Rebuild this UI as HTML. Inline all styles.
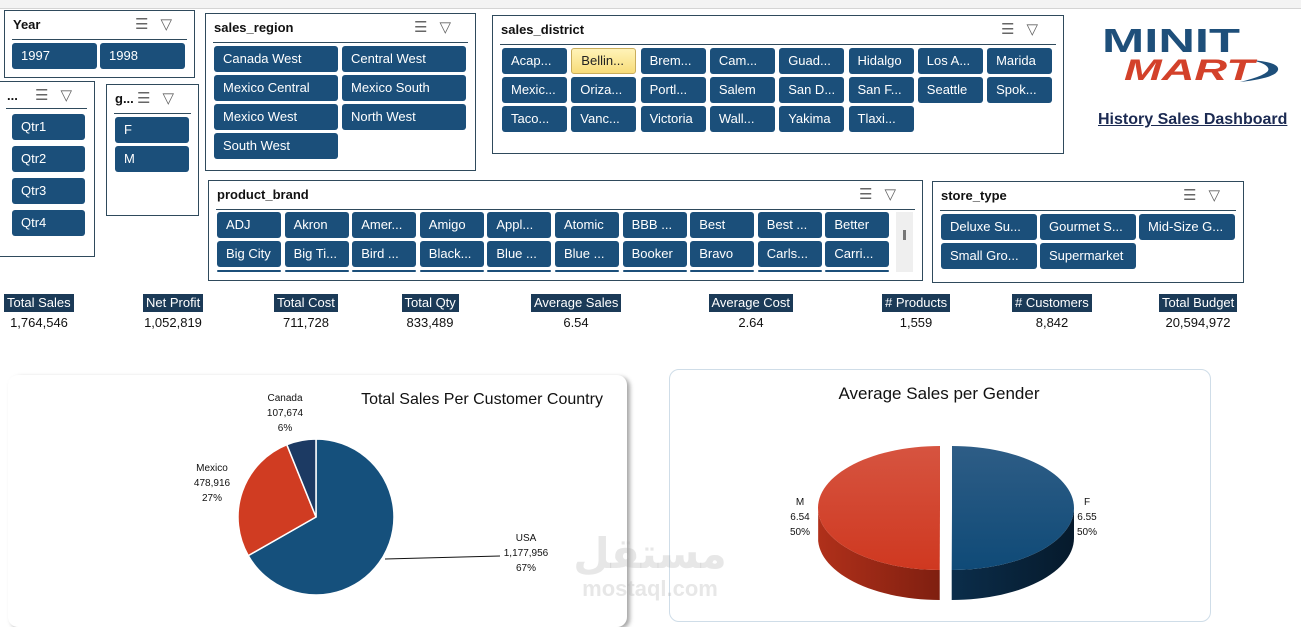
<!DOCTYPE html>
<html><head><meta charset="utf-8">
<style>
body{margin:0;width:1301px;height:627px;overflow:hidden;background:#fff;font-family:"Liberation Sans",sans-serif;position:relative}
.abs{position:absolute}
.slicer{position:absolute;border:1px solid #2f4a5c;background:#fff;box-sizing:border-box}
.stitle{position:absolute;left:8px;top:6px;font-weight:bold;font-size:13px;color:#111}
.sline{position:absolute;left:7px;right:7px;height:1px;background:#2f4a5c}
.btn{position:absolute;background:#1b4f7a;color:#fff;font-size:13px;border-radius:3px;box-sizing:border-box;padding-left:9px;line-height:26px;white-space:nowrap;overflow:hidden}
.btn.sel{background:linear-gradient(#fff3b8,#f7dc7a);color:#222;border:1px solid #c9ad5c;line-height:24px}
.icons{position:absolute;top:4px;font-size:15px;color:#666;letter-spacing:12px}
.kl{position:absolute;top:294px;background:#1b3a57;color:#fff;font-size:13px;height:18px;line-height:18px;padding:0 3px;white-space:nowrap}
.kv{position:absolute;top:315px;font-size:13px;color:#111;white-space:nowrap;transform:translateX(-50%)}
.lbl{font-family:"Liberation Sans",sans-serif;font-size:10px;fill:#111}
</style></head><body>
<div class="abs" style="left:0;top:0;width:1301px;height:8px;background:#f3f3f3;border-bottom:1px solid #d4d4d4"></div>
<div id="root"></div>

<div class="abs" style="left:1100px;top:22px;width:185px;height:62px">
<svg width="185" height="62">
<text x="2" y="30" font-family="Liberation Sans" font-weight="bold" font-size="33" fill="#1e4f7a" textLength="138" lengthAdjust="spacingAndGlyphs">MINIT</text>
<path d="M150 38 Q180 40 178 48 Q176 56 140 60 Q172 52 168 46 Q166 41 150 38Z" fill="#1e4f7a"/>
<text x="24" y="58" font-family="Liberation Sans" font-weight="bold" font-style="italic" font-size="30" fill="#d3412a" textLength="130" lengthAdjust="spacingAndGlyphs">MART</text>
</svg></div>
<div class="abs" style="left:1098px;top:111px;font-size:16px;font-weight:bold;color:#1b2a52;text-decoration:underline;white-space:nowrap">History Sales Dashboard</div>

<div class="abs" style="left:8px;top:375px;width:619px;height:252px;border-radius:10px;background:#fff;box-shadow:3px 2px 4px rgba(0,0,0,0.35)"></div>
<div class="abs" style="left:669px;top:369px;width:542px;height:253px;border-radius:10px;border:1px solid #cfdde8;box-sizing:border-box"></div>
<div class="abs" style="left:570px;top:532px;color:rgba(170,170,170,0.28);font-size:42px;font-weight:bold;line-height:44px;text-align:center;width:160px;font-family:'Liberation Sans','DejaVu Sans',sans-serif">مستقل<div style="font-size:22px;line-height:26px">mostaql.com</div></div>

<svg class="abs" style="left:0;top:0" width="1301" height="627" id="charts">
<text x="482" y="404" text-anchor="middle" font-family="Liberation Sans" font-size="16" fill="#111">Total Sales Per Customer Country</text>
<text x="939" y="399" text-anchor="middle" font-family="Liberation Sans" font-size="17" fill="#111">Average Sales per Gender</text>
<g id="pie1"></g><g id="pie2"></g>
</svg>

<script>
const countries=["USA","Mexico","Canada"];
const countrySales=[1177956,478916,107674];
const countryPct=["67%","27%","6%"];
const genders=["F","M"];
const genderAvg=[6.55,6.54];
const genderPct=["50%","50%"];
const kpiLabels=["Total Sales","Net Profit","Total Cost","Total Qty","Average Sales","Average Cost","# Products","# Customers","Total Budget"];
const kpiValues=["1,764,546","1,052,819","711,728","833,489","6.54","2.64","1,559","8,842","20,594,972"];

const root=document.getElementById('root');
function slicer(name,title,x,y,w,h,lineY,iconX){
  const s=document.createElement('div');s.className='slicer';
  
  
  s.style.cssText+=`left:${x}px;top:${y}px;width:${w}px;height:${h}px`;
  const t=document.createElement('div');t.className='stitle';t.textContent=title;
  
  
  s.appendChild(t);
  const l=document.createElement('div');l.className='sline';l.style.top=lineY+'px';
  s.appendChild(l);
  const ic=document.createElement('div');ic.className='icons';ic.style.left=iconX+'px';ic.textContent='☰▽';
  
  
  s.appendChild(ic);
  root.appendChild(s);
}
function btn(text,x,y,w,sel){
  const b=document.createElement('div');b.className='btn'+(sel?' sel':'');b.textContent=text;
  
  
  b.style.cssText+=`left:${x}px;top:${y}px;width:${w}px;height:26px`;
  root.appendChild(b);
}
slicer('year-slicer','Year',4,10,191,68,28,130);
btn('1997',12,43,85);btn('1998',100,43,85);
slicer('quarter-slicer','...',-2,81,97,176,26,36);
['Qtr1','Qtr2','Qtr3','Qtr4'].forEach((q,i)=>btn(q,12,114+i*32,73));
slicer('gender-slicer','g...',106,84,93,132,28,30);
btn('F',115,117,74);btn('M',115,146,74);
slicer('region-slicer','sales_region',205,13,271,158,28,208);
['Canada West','Central West','Mexico Central','Mexico South','Mexico West','North West','South West'].forEach((r,i)=>btn(r,214+(i%2)*128,46+Math.floor(i/2)*29,124));
slicer('district-slicer','sales_district',492,15,572,139,28,508);
['Acap...','Bellin...','Brem...','Cam...','Guad...','Hidalgo','Los A...','Marida','Mexic...','Oriza...','Portl...','Salem','San D...','San F...','Seattle','Spok...','Taco...','Vanc...','Victoria','Wall...','Yakima','Tlaxi...'].forEach((d,i)=>btn(d,502+(i%8)*69.3,48+Math.floor(i/8)*29,65,i===1));
slicer('brand-slicer','product_brand',208,180,715,101,28,650);
['ADJ','Akron','Amer...','Amigo','Appl...','Atomic','BBB ...','Best','Best ...','Better','Big City','Big Ti...','Bird ...','Black...','Blue ...','Blue ...','Booker','Bravo','Carls...','Carri...'].forEach((d,i)=>btn(d,217+(i%10)*67.6,212+Math.floor(i/10)*29,64));
for(let i=0;i<10;i++){const b=document.createElement('div');b.className='btn';


b.style.cssText+=`left:${217+i*67.6}px;top:270px;width:64px;height:2px`;root.appendChild(b);}
const sb=document.createElement('div');sb.className='abs';


sb.style.cssText='left:896px;top:212px;width:17px;height:60px;background:#efefef';
sb.innerHTML='<div style="position:absolute;left:7px;top:18px;width:3px;height:10px;background:#777"></div>';root.appendChild(sb);
slicer('store-type-slicer','store_type',932,181,312,102,28,250);
['Deluxe Su...','Gourmet S...','Mid-Size G...','Small Gro...','Supermarket'].forEach((d,i)=>btn(d,941+(i%3)*99,214+Math.floor(i/3)*29,96));

kpiLabels.forEach((k,i)=>{
  const l=document.createElement('div');l.className='kl';l.textContent=k;
  
  
  root.appendChild(l);
  const w=l.offsetWidth;
  const c=[39,173,306,430,576,751,916,1052,1198][i];
  l.style.left=(c-w/2)+'px';
  const v=document.createElement('div');v.className='kv';v.textContent=kpiValues[i];
  
  
  v.style.left=c+'px';root.appendChild(v);
});

const NS='http://www.w3.org/2000/svg';
function el(tag,attrs,parent){const e=document.createElementNS(NS,tag);for(const k in attrs)e.setAttribute(k,attrs[k]);parent.appendChild(e);return e;}
// pie 1
const p1=document.getElementById('pie1');
const cx=316,cy=517,r=78;
const cols=['#15507c','#d03c22','#1c3a63'];
const tot=countrySales.reduce((a,b)=>a+b,0);
let ang=-Math.PI/2;
const labelPos=[[526,541],[212,471],[285,401]];
countrySales.forEach((v,i)=>{
  const a2=ang+v/tot*2*Math.PI;
  const x1=cx+r*Math.cos(ang),y1=cy+r*Math.sin(ang),x2=cx+r*Math.cos(a2),y2=cy+r*Math.sin(a2);
  const big=(a2-ang)>Math.PI?1:0;
  const s=el('path',{d:`M${cx},${cy} L${x1},${y1} A${r},${r} 0 ${big} 1 ${x2},${y2}Z`,fill:cols[i],stroke:'#fff','stroke-width':1.5},p1);
  
  
  const t=el('text',{x:labelPos[i][0],y:labelPos[i][1],'text-anchor':'middle',class:'lbl'},p1);
  
  
  [countries[i],countrySales[i].toLocaleString('en-US'),countryPct[i]].forEach((s2,j)=>{const ts=el('tspan',{x:labelPos[i][0],dy:j?15:0},t);ts.textContent=s2;});
  ang=a2;
});
el('path',{d:'M385,559 L500,556',stroke:'#111','stroke-width':1,fill:'none'},p1);

// pie 2 (3D)
const p2=document.getElementById('pie2');
const c2x=946,c2y=508,rx=122,ry=62,dep=30,gap=6;
const defs=el('defs',{},p2);
const g1=el('linearGradient',{id:'gf',x1:0,y1:0,x2:1,y2:0},defs);el('stop',{offset:0,'stop-color':'#0b2d4a'},g1);el('stop',{offset:1,'stop-color':'#061a2c'},g1);
const g2=el('linearGradient',{id:'gm',x1:0,y1:0,x2:1,y2:0},defs);el('stop',{offset:0,'stop-color':'#b0301a'},g2);el('stop',{offset:1,'stop-color':'#7f1f10'},g2);
const g3=el('linearGradient',{id:'tf',x1:0,y1:0,x2:0,y2:1},defs);el('stop',{offset:0,'stop-color':'#2e5d86'},g3);el('stop',{offset:1,'stop-color':'#0f4a77'},g3);
const g4=el('linearGradient',{id:'tm',x1:0,y1:0,x2:0,y2:1},defs);el('stop',{offset:0,'stop-color':'#d65440'},g4);el('stop',{offset:1,'stop-color':'#cf3820'},g4);
const gtot=genderAvg.reduce((a,b)=>a+b,0);
let ga=-Math.PI/2;
const gfill=[['url(#tf)','url(#gf)'],['url(#tm)','url(#gm)']];
genderAvg.forEach((v,i)=>{
  const a2=ga+v/gtot*2*Math.PI;const mid=(ga+a2)/2;
  const ox=gap*Math.cos(mid),oy=gap*Math.sin(mid)*0.5;
  const px=a=>c2x+ox+rx*Math.cos(a),py=a=>c2y+oy+ry*Math.sin(a);
  const top=[],N=60;
  for(let k=0;k<=N;k++){const a=ga+(a2-ga)*k/N;if(Math.sin(a)>=-0.001)top.push([px(a),py(a)]);}
  if(top.length>1){
    let d='M'+top.map(p=>p[0]+','+p[1]).join(' L');
    d+=' L'+top.slice().reverse().map(p=>p[0]+','+(p[1]+dep)).join(' L')+'Z';
    const w=el('path',{d,fill:gfill[i][1]},p2);
    
    
  }
  const pts=[];for(let k=0;k<=N;k++){const a=ga+(a2-ga)*k/N;pts.push(px(a)+','+py(a));}
  const cxx=c2x+ox,cyy=c2y+oy;
  const f=el('path',{d:`M${cxx},${cyy} L${pts.join(' L')} Z`,fill:gfill[i][0]},p2);
  
  
  const lx=i===0?1087:800;
  const t=el('text',{x:lx,y:505,'text-anchor':'middle',class:'lbl'},p2);
  
  
  [genders[i],genderAvg[i].toFixed(2),genderPct[i]].forEach((s2,j)=>{const ts=el('tspan',{x:lx,dy:j?15:0},t);ts.textContent=s2;});
  ga=a2;
});
</script>
</body></html>
